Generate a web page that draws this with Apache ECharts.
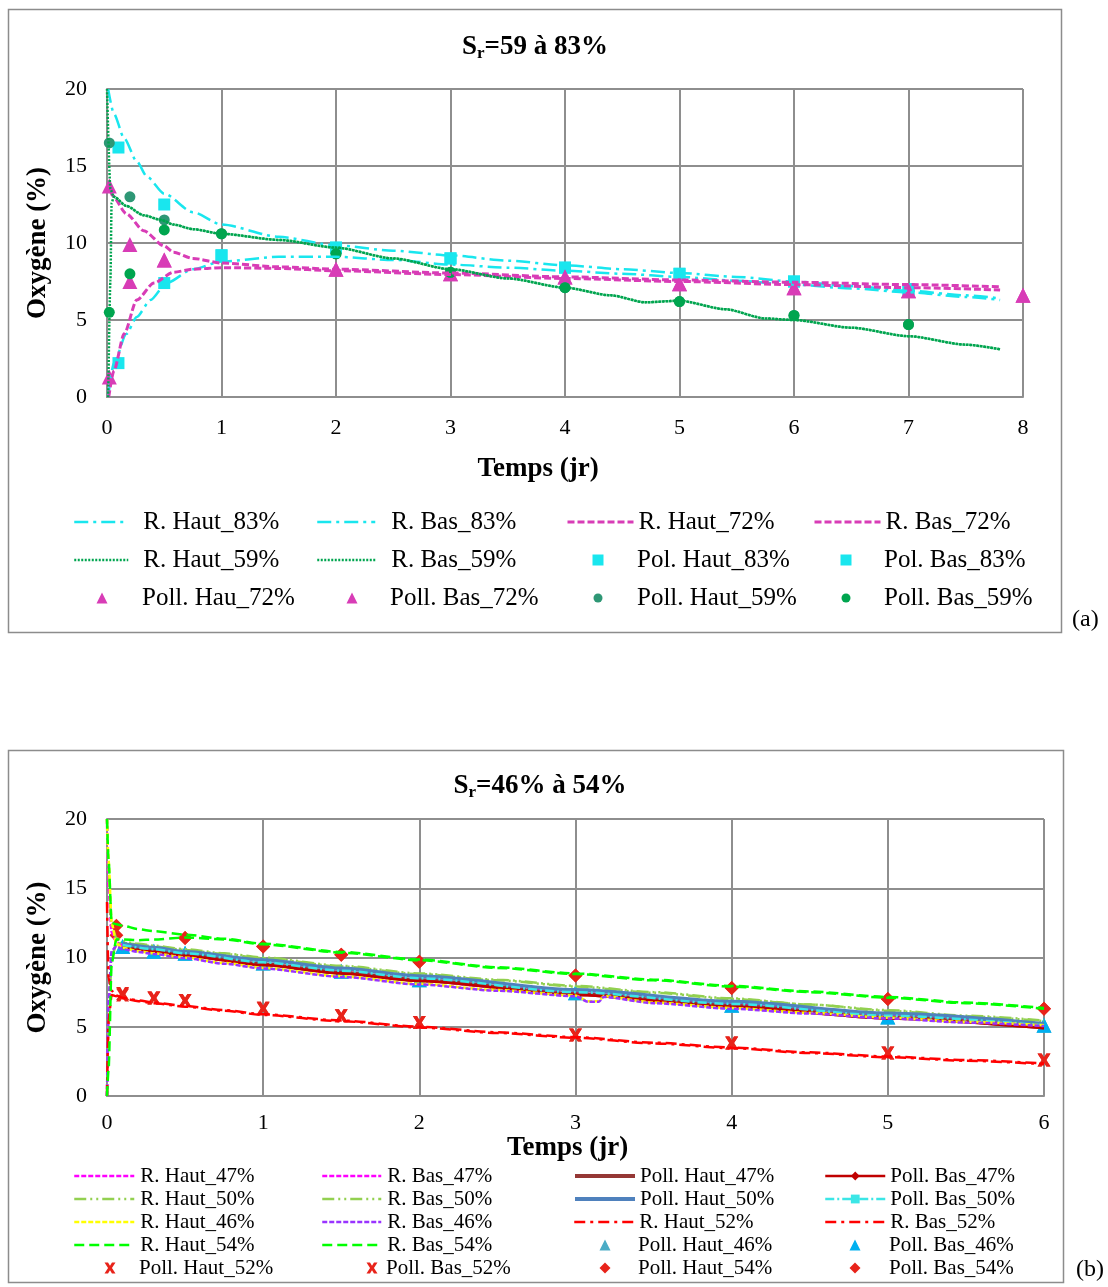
<!DOCTYPE html>
<html><head><meta charset="utf-8">
<script src="https://cdn.jsdelivr.net/npm/echarts@6/dist/echarts.min.js"></script>
<style>html,body{margin:0;padding:0;background:#fff}#c{width:1108px;height:1287px}</style>
</head><body><div id="c"></div>
<script>
// ---------- Panel (a) : Sr = 59 à 83% ----------
const A_X_TICKS = [0, 1, 2, 3, 4, 5, 6, 7, 8];
const A_Y_TICKS = [0, 5, 10, 15, 20];
const R_HAUT_83_X = [0.01, 0.06, 0.15, 0.26, 0.35, 0.5, 0.75, 1, 1.5, 2, 2.5, 3, 3.5, 4, 4.5, 5, 5.5, 6, 6.5, 7, 7.5, 7.8];
const R_HAUT_83_Y = [20, 18.4, 16.8, 15.3, 14.3, 13.2, 12.0, 11.2, 10.4, 9.85, 9.5, 9.2, 8.85, 8.55, 8.3, 8.05, 7.8, 7.5, 7.2, 6.9, 6.6, 6.4];
const R_BAS_83_X = [0.01, 0.06, 0.17, 0.26, 0.38, 0.52, 0.75, 1, 1.5, 2, 2.5, 3, 3.5, 4, 4.5, 5, 5.5, 6, 6.5, 7, 7.5, 7.8];
const R_BAS_83_Y = [0, 2.2, 4.1, 5.2, 6.3, 7.4, 8.3, 8.8, 9.1, 9.1, 8.9, 8.6, 8.4, 8.2, 8.0, 7.8, 7.55, 7.3, 7.05, 6.8, 6.5, 6.3];
const R_HAUT_72_X = [0.015, 0.045, 0.17, 0.32, 0.5, 0.58, 0.75, 1, 1.5, 2, 3, 4, 5, 6, 7, 7.8];
const R_HAUT_72_Y = [14, 13.1, 11.9, 10.8, 9.8, 9.4, 9.0, 8.7, 8.45, 8.3, 8.05, 7.8, 7.6, 7.45, 7.3, 7.15];
const R_BAS_72_X = [0.015, 0.06, 0.15, 0.26, 0.41, 0.58, 0.75, 1, 1.5, 2, 3, 4, 5, 6, 7, 7.8];
const R_BAS_72_Y = [0, 1.7, 4.1, 6.3, 7.4, 8.1, 8.3, 8.4, 8.35, 8.2, 7.95, 7.7, 7.5, 7.3, 7.1, 6.95];
const R_HAUT_59_X = [0, 0.03, 0.06, 0.17, 0.32, 0.47, 0.58, 0.75, 1, 1.5, 2, 2.5, 3, 3.5, 4, 4.4, 4.7, 5, 5.4, 5.75, 6, 6.5, 7, 7.5, 7.8];
const R_HAUT_59_Y = [20, 13.5, 13, 12.4, 11.8, 11.5, 11.2, 10.9, 10.6, 10.2, 9.7, 9.0, 8.3, 7.7, 7.1, 6.6, 6.15, 6.25, 5.7, 5.1, 5.0, 4.5, 3.95, 3.4, 3.1];
const R_BAS_59_X = [0.01, 0.03, 0.04, 0.06, 0.17, 0.32, 0.47, 0.58, 0.75, 1, 1.5, 2, 2.5, 3, 3.5, 4, 4.4, 4.7, 5, 5.4, 5.75, 6, 6.5, 7, 7.5, 7.8];
const R_BAS_59_Y = [0, 7.6, 12.6, 13, 12.4, 11.8, 11.5, 11.2, 10.9, 10.6, 10.2, 9.7, 9.0, 8.3, 7.7, 7.1, 6.6, 6.15, 6.25, 5.7, 5.1, 5.0, 4.5, 3.95, 3.4, 3.1];
const POL_HAUT_83_X = [0.1, 0.5, 1, 2, 3, 4, 5, 6, 7];
const POL_HAUT_83_Y = [16.2, 12.5, 9.2, 9.7, 9.0, 8.4, 8.0, 7.5, 7.0];
const POL_BAS_83_X = [0.1, 0.5, 1, 2, 3, 4, 5, 6, 7];
const POL_BAS_83_Y = [2.2, 7.4, 9.2, 9.7, 9.0, 8.4, 8.0, 7.5, 7.0];
const POLL_HAUT_72_X = [0.02, 0.2, 0.5, 2, 3, 4, 5, 6, 7, 8];
const POLL_HAUT_72_Y = [13.7, 9.9, 8.9, 8.3, 8.0, 7.8, 7.35, 7.1, 6.9, 6.6];
const POLL_BAS_72_X = [0.02, 0.2, 0.5, 2, 3, 4, 5, 6, 7, 8];
const POLL_BAS_72_Y = [1.3, 7.5, 8.9, 8.3, 8.0, 7.8, 7.35, 7.1, 6.9, 6.6];
const POLL_HAUT_59_X = [0.02, 0.2, 0.5, 1, 2, 3, 4, 5, 6, 7];
const POLL_HAUT_59_Y = [16.5, 13.0, 11.5, 10.6, 9.3, 8.1, 7.1, 6.2, 5.3, 4.7];
const POLL_BAS_59_X = [0.02, 0.2, 0.5, 1, 2, 3, 4, 5, 6, 7];
const POLL_BAS_59_Y = [5.5, 8.0, 10.85, 10.6, 9.3, 8.1, 7.1, 6.2, 5.3, 4.7];

// ---------- Panel (b) : Sr = 46% à 54% ----------
const B_X_TICKS = [0, 1, 2, 3, 4, 5, 6];
const B_Y_TICKS = [0, 5, 10, 15, 20];
const TB = [0, 0.01, 0.03, 0.06, 0.1, 0.2, 0.3, 0.5, 0.75, 1, 1.5, 2, 2.5, 3, 3.5, 4, 4.5, 5, 5.5, 6];
const R_HAUT_47 = [20, 15, 11.8, 11.1, 10.9, 10.65, 10.45, 10.2, 9.85, 9.5, 8.95, 8.4, 7.9, 7.45, 7.05, 6.7, 6.3, 5.9, 5.55, 5.2];
const R_BAS_47  = [0, 6, 10.3, 10.9, 10.85, 10.6, 10.4, 10.15, 9.8, 9.45, 8.9, 8.35, 7.85, 7.4, 7.0, 6.65, 6.25, 5.85, 5.5, 5.15];
const R_HAUT_50 = [20, 16, 12.3, 11.4, 11.15, 11.0, 10.85, 10.6, 10.3, 10.0, 9.4, 8.85, 8.4, 7.95, 7.5, 7.05, 6.6, 6.2, 5.8, 5.45];
const R_BAS_50  = [0, 5, 10.0, 11.0, 11.05, 10.95, 10.8, 10.55, 10.25, 9.95, 9.35, 8.8, 8.35, 7.9, 7.45, 7.0, 6.6, 6.15, 5.75, 5.4];
const TB46 = [0, 0.01, 0.03, 0.06, 0.1, 0.2, 0.3, 0.5, 0.75, 1, 1.5, 2, 2.5, 3, 3.08, 3.15, 3.18, 3.5, 4, 4.5, 5, 5.5, 6];
const R_HAUT_46 = [20, 17, 12.5, 11.0, 10.7, 10.45, 10.3, 10.0, 9.6, 9.25, 8.65, 8.1, 7.65, 7.25, 6.85, 6.85, 7.2, 6.75, 6.35, 6.0, 5.65, 5.35, 5.1];
const R_BAS_46  = [0, 7, 10.5, 10.8, 10.6, 10.4, 10.25, 9.95, 9.55, 9.2, 8.6, 8.05, 7.6, 7.2, 6.8, 6.8, 7.15, 6.7, 6.3, 5.95, 5.6, 5.3, 5.05];
const R_HAUT_52 = [14, 8.5, 7.6, 7.25, 7.1, 6.9, 6.75, 6.5, 6.2, 5.9, 5.45, 5.0, 4.6, 4.25, 3.85, 3.5, 3.15, 2.85, 2.6, 2.35];
const R_BAS_52  = [0, 5.5, 7.3, 7.2, 7.05, 6.85, 6.7, 6.45, 6.15, 5.85, 5.4, 4.95, 4.55, 4.2, 3.8, 3.45, 3.1, 2.8, 2.55, 2.3];
const R_HAUT_54 = [20, 17, 12.5, 12.4, 12.3, 12.05, 11.9, 11.65, 11.35, 11.0, 10.4, 9.85, 9.3, 8.85, 8.4, 7.95, 7.55, 7.15, 6.75, 6.35];
const R_BAS_54  = [0, 1.9, 9.6, 11.3, 11.3, 11.25, 11.3, 11.45, 11.3, 10.95, 10.35, 9.8, 9.25, 8.8, 8.35, 7.9, 7.5, 7.1, 6.7, 6.3];
const TPOLL = [0.1, 0.3, 0.5, 1, 1.5, 2, 3, 4, 5, 6];
const POLL_HAUT_47 = [10.8, 10.5, 10.2, 9.5, 8.9, 8.35, 7.35, 6.5, 5.65, 4.95];
const POLL_BAS_47  = [10.7, 10.4, 10.1, 9.45, 8.85, 8.3, 7.3, 6.45, 5.6, 4.9];
const POLL_HAUT_50 = [11.0, 10.7, 10.4, 9.8, 9.2, 8.65, 7.65, 6.8, 5.95, 5.2];
const POLL_BAS_50  = [10.9, 10.6, 10.3, 9.65, 9.05, 8.5, 7.5, 6.65, 5.8, 5.1];
const POLL_HAUT_46 = [10.8, 10.45, 10.3, 9.6, 9.0, 8.4, 7.45, 6.55, 5.7, 5.1];
const POLL_BAS_46  = [10.8, 10.45, 10.3, 9.6, 9.0, 8.4, 7.45, 6.55, 5.7, 5.1];
const POLL_HAUT_52 = [7.4, 7.1, 6.9, 6.35, 5.8, 5.3, 4.4, 3.85, 3.1, 2.6];
const POLL_BAS_52  = [7.3, 7.05, 6.9, 6.3, 5.8, 5.3, 4.4, 3.8, 3.1, 2.6];
const T54 = [0.06, 0.5, 1, 1.5, 2, 3, 4, 5, 6];
const POLL_HAUT_54 = [12.3, 11.4, 10.8, 10.2, 9.7, 8.7, 7.8, 7.0, 6.3];
const POLL_BAS_54  = [11.6, 11.4, 10.8, 10.2, 9.7, 8.7, 7.8, 7.0, 6.3];

const FONT = 'Liberation Serif';
const pair = (xs, ys) => xs.map((x, i) => [x, ys[i]]);
const XMARK = 'path://M0,0 L3.2,0 L5,3 L6.8,0 L10,0 L6.8,5 L10,10 L6.8,10 L5,7 L3.2,10 L0,10 L3.2,5 Z';

const plainLines = new Set();
const symbolOf = {};
const lineStyleOf = {};
function line(name, g, xs, ys, color, type, width, extra) {
  if (!extra) plainLines.add(name);
  lineStyleOf[name] = { color, type, width };
  return Object.assign({
    name, type: 'line', xAxisIndex: g, yAxisIndex: g, data: pair(xs, ys),
    symbol: 'none', showSymbol: false, smooth: 0.25, smoothMonotone: 'x',
    lineStyle: { color, type, width }, itemStyle: { color }, animation: false
  }, extra || {});
}
function pts(name, g, xs, ys, color, symbol, size) {
  symbolOf[name] = symbol;
  return { name, type: 'scatter', xAxisIndex: g, yAxisIndex: g, data: pair(xs, ys),
    symbol, symbolSize: size, symbolKeepAspect: true, itemStyle: { color, opacity: 1 }, animation: false };
}

const CY = '#19E6EE', MG = '#D83CB6', GR = '#00A54F', TL = '#2E9775';
const seriesA = [
  line('R. Haut_83%', 0, R_HAUT_83_X, R_HAUT_83_Y, CY, [14, 5, 3, 5], 2.5),
  line('R. Bas_83%', 0, R_BAS_83_X, R_BAS_83_Y, CY, [14, 5, 3, 5], 2.5),
  line('R. Haut_72%', 0, R_HAUT_72_X, R_HAUT_72_Y, MG, [7, 3], 3),
  line('R. Bas_72%', 0, R_BAS_72_X, R_BAS_72_Y, MG, [7, 3], 3),
  line('R. Haut_59%', 0, R_HAUT_59_X, R_HAUT_59_Y, GR, [2, 1.5], 2.5),
  line('R. Bas_59%', 0, R_BAS_59_X, R_BAS_59_Y, GR, [2, 1.5], 2.5),
  pts('Pol. Haut_83%', 0, POL_HAUT_83_X, POL_HAUT_83_Y, CY, 'rect', 12),
  pts('Pol. Bas_83%', 0, POL_BAS_83_X, POL_BAS_83_Y, CY, 'rect', 12),
  pts('Poll. Hau_72%', 0, POLL_HAUT_72_X, POLL_HAUT_72_Y, MG, 'triangle', 15),
  pts('Poll. Bas_72%', 0, POLL_BAS_72_X, POLL_BAS_72_Y, MG, 'triangle', 15),
  pts('Poll. Haut_59%', 0, POLL_HAUT_59_X, POLL_HAUT_59_Y, TL, 'circle', 11),
  pts('Poll. Bas_59%', 0, POLL_BAS_59_X, POLL_BAS_59_Y, GR, 'circle', 11)
];
const seriesB = [
  line('R. Haut_47%', 1, TB, R_HAUT_47, '#FF00FF', [5, 2], 2.5),
  line('R. Bas_47%', 1, TB, R_BAS_47, '#FF00FF', [5, 2], 2.5),
  line('Poll. Haut_47%', 1, TPOLL, POLL_HAUT_47, '#953735', 'solid', 4),
  line('Poll. Bas_47%', 1, TPOLL, POLL_BAS_47, '#C00000', 'solid', 2.5, { symbol: 'diamond', symbolSize: 7 }),
  line('R. Haut_50%', 1, TB, R_HAUT_50, '#92D050', [12, 4, 2, 4, 2, 4], 2.5),
  line('R. Bas_50%', 1, TB, R_BAS_50, '#92D050', [12, 4, 2, 4, 2, 4], 2.5),
  line('Poll. Haut_50%', 1, TPOLL, POLL_HAUT_50, '#4F81BD', 'solid', 4),
  line('Poll. Bas_50%', 1, TPOLL, POLL_BAS_50, '#3BE6E6', [9, 3, 2, 3], 2.5, { symbol: 'rect', symbolSize: 7 }),
  line('R. Haut_46%', 1, TB46, R_HAUT_46, '#FFFF00', [5, 2], 2.5),
  line('R. Bas_46%', 1, TB46, R_BAS_46, '#9933FF', [5, 2], 2.5),
  line('R. Haut_52%', 1, TB, R_HAUT_52, '#FF0000', [11, 5, 3, 5], 2.5),
  line('R. Bas_52%', 1, TB, R_BAS_52, '#FF0000', [11, 5, 3, 5], 2.5),
  line('R. Haut_54%', 1, TB, R_HAUT_54, '#00FF00', [10, 5], 2.5),
  line('R. Bas_54%', 1, TB, R_BAS_54, '#00FF00', [10, 5], 2.5),
  pts('Poll. Haut_46%', 1, TPOLL, POLL_HAUT_46, '#4BACC6', 'triangle', 15),
  pts('Poll. Bas_46%', 1, TPOLL, POLL_BAS_46, '#00B0F0', 'triangle', 15),
  pts('Poll. Haut_52%', 1, TPOLL, POLL_HAUT_52, '#E8231A', XMARK, 13),
  pts('Poll. Bas_52%', 1, TPOLL, POLL_BAS_52, '#E8231A', XMARK, 13),
  pts('Poll. Haut_54%', 1, T54, POLL_HAUT_54, '#E8231A', 'diamond', 14),
  pts('Poll. Bas_54%', 1, T54, POLL_BAS_54, '#E8231A', 'diamond', 14)
];

const GRIDC = '#8E8E8E';
function xAx(g, max, margin, nameGap, padR) {
  return { gridIndex: g, type: 'value', min: 0, max, interval: 1,
    axisLine: { show: true, onZero: false, lineStyle: { color: GRIDC, width: 2 } },
    axisTick: { show: false },
    splitLine: { show: true, lineStyle: { color: GRIDC, width: 2 } },
    axisLabel: { margin, color: '#000', fontFamily: FONT, fontSize: 22 },
    name: 'Temps (jr)', nameLocation: 'middle', nameGap,
    nameTextStyle: { color: '#000', fontFamily: FONT, fontWeight: 'bold', fontSize: 27, padding: [0, padR, 0, 0] } };
}
function yAx(g) {
  return { gridIndex: g, type: 'value', min: 0, max: 20, interval: 5,
    axisLine: { show: true, lineStyle: { color: GRIDC, width: 2 } },
    axisTick: { show: false },
    splitLine: { show: true, lineStyle: { color: GRIDC, width: 2 } },
    axisLabel: { margin: 20, color: '#000', fontFamily: FONT, fontSize: 22 },
    name: 'Oxygène (%)', nameLocation: 'middle', nameGap: 55,
    nameTextStyle: { color: '#000', fontFamily: FONT, fontWeight: 'bold', fontSize: 27 } };
}
// one legend component per entry
function legItem(name, iconLeft, iconW, symCx, textX, cy, fs, symSize) {
  const isScatter = !!symbolOf[name];
  let left, w, h;
  if (isScatter) { w = symSize; h = symSize; left = symCx - symSize / 2; }
  else { w = iconW; h = 11; left = iconLeft; }
  const pad = Math.max(0, textX - (left + w + 5));
  const item = plainLines.has(name) ? { name, itemStyle: { opacity: 0 } } : { name };
  if (isScatter) item.icon = symbolOf[name];
  const ls = lineStyleOf[name];
  if (ls) item.lineStyle = { width: ls.width, type: ls.type, color: ls.color };
  return { data: [item], orient: 'vertical', left, top: cy - fs / 2, itemWidth: w, itemHeight: h,
    padding: 0, selectedMode: false,
    textStyle: { color: '#000', fontFamily: FONT, fontSize: fs, lineHeight: fs, padding: [0, 0, 0, pad] } };
}
const LEG_A_COLS = [[73, 54, 102, 142], [316, 58, 352, 390], [566, 66, 598, 637], [813, 66, 846, 884]];
const LEG_A_ROWS = [522, 560, 598];
const LEG_A_NAMES = [
  ['R. Haut_83%', 'R. Bas_83%', 'R. Haut_72%', 'R. Bas_72%'],
  ['R. Haut_59%', 'R. Bas_59%', 'Pol. Haut_83%', 'Pol. Bas_83%'],
  ['Poll. Hau_72%', 'Poll. Bas_72%', 'Poll. Haut_59%', 'Poll. Bas_59%']
];
const LEG_B_COLS = [[73, 60, 110, 139], [321, 59, 372, 386], [573, 60, 605, 638], [824, 60, 855, 889]];
const LEG_B_ROWS = [1176, 1199, 1222, 1245, 1268];
const LEG_B_NAMES = [
  ['R. Haut_47%', 'R. Bas_47%', 'Poll. Haut_47%', 'Poll. Bas_47%'],
  ['R. Haut_50%', 'R. Bas_50%', 'Poll. Haut_50%', 'Poll. Bas_50%'],
  ['R. Haut_46%', 'R. Bas_46%', 'R. Haut_52%', 'R. Bas_52%'],
  ['R. Haut_54%', 'R. Bas_54%', 'Poll. Haut_46%', 'Poll. Bas_46%'],
  ['Poll. Haut_52%', 'Poll. Bas_52%', 'Poll. Haut_54%', 'Poll. Bas_54%']
];
const legends = [];
LEG_A_NAMES.forEach((row, r) => row.forEach((n, c) => {
  const col = LEG_A_COLS[c];
  legends.push(legItem(n, col[0], col[1], col[2], col[3], LEG_A_ROWS[r], 25, symbolOf[n] === 'circle' ? 9 : 11));
}));
LEG_B_NAMES.forEach((row, r) => row.forEach((n, c) => {
  const col = LEG_B_COLS[c];
  legends.push(legItem(n, col[0], col[1], col[2], col[3], LEG_B_ROWS[r], 21, 11));
}));

function ttl(txt, cx, top) {
  return { text: '{a|S}{s|r}{a|' + txt + '}', left: cx, top, textAlign: 'center',
    textStyle: { rich: {
      a: { fontFamily: FONT, fontWeight: 'bold', fontSize: 27, color: '#000' },
      s: { fontFamily: FONT, fontWeight: 'bold', fontSize: 17, color: '#000', padding: [12, 0, 0, 0] } } } };
}

const chart = echarts.init(document.getElementById('c'), null, { renderer: 'canvas' });
chart.setOption({
  backgroundColor: '#fff',
  animation: false,
  title: [ttl('=59 à 83%', 530, 28), ttl('=46% à 54%', 535, 767)],
  grid: [
    { left: 107, top: 89, width: 916, height: 308 },
    { left: 107, top: 819, width: 937, height: 277 }
  ],
  xAxis: [xAx(0, 8, 20, 59, 54), xAx(1, 6, 16, 36, 16)],
  yAxis: [yAx(0), yAx(1)],
  legend: legends,
  graphic: [
    { type: 'rect', shape: { x: 8.5, y: 9.5, width: 1053, height: 623 }, style: { fill: null, stroke: '#8C8C8C', lineWidth: 1.5 }, silent: true },
    { type: 'rect', shape: { x: 8.5, y: 750.5, width: 1055, height: 532 }, style: { fill: null, stroke: '#8C8C8C', lineWidth: 1.5 }, silent: true },
    { type: 'text', left: 1072, top: 608, style: { text: '(a)', font: '24px "Liberation Serif"', fill: '#000' } },
    { type: 'text', left: 1076, top: 1258, style: { text: '(b)', font: '24px "Liberation Serif"', fill: '#000' } }
  ],
  series: seriesA.concat(seriesB)
});
</script></body></html>
